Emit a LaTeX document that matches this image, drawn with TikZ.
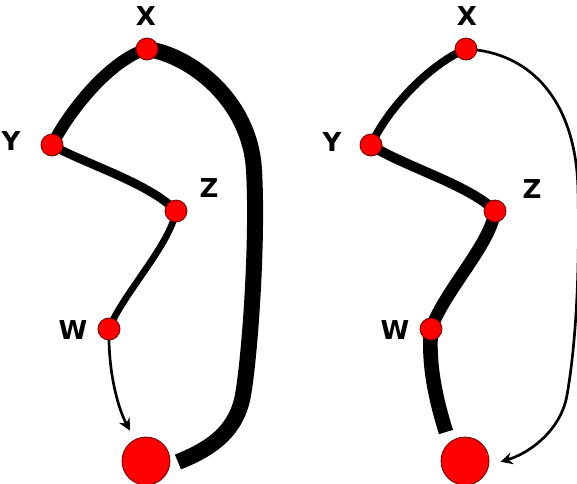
\documentclass[tikz,border=0pt]{standalone}
\usepackage{fontspec}
\setmainfont{DejaVu Sans}
\usetikzlibrary{arrows.meta,backgrounds}
\tikzset{
  pt/.style={circle,fill=red,draw=black!60!red,line width=0.6pt,inner sep=0pt,minimum size=16.5pt},
  goal/.style={pt,minimum size=36pt},
  lab/.style={inner sep=0pt,font=\fontsize{19.5}{19.5}\selectfont\bfseries},
  tip/.style={line width=2pt,-{Stealth[length=9pt,width=9pt,inset=3pt]}},
}
\begin{document}
\begin{tikzpicture}[x=0.75pt,y=-0.75pt]
  \useasboundingbox (0,0) rectangle (577,483);
  % pannello sinistro
  \node[pt]   (X1) at (147,49)  {};
  \node[pt]   (Y1) at (52,145)  {};
  \node[pt]   (Z1) at (176,211) {};
  \node[pt]   (W1) at (109,329) {};
  \node[goal] (B1) at (146,461) {};
  \coordinate (E1) at (178,462);
  \node[lab] (lX1) at (146,16)  {X};
  \node[lab] (lY1) at (11,141)  {Y};
  \node[lab] (lZ1) at (209,188) {Z};
  \node[lab] (lW1) at (73,330)  {W};
  % pannello destro
  \node[pt]   (X2) at (466,49)  {};
  \node[pt]   (Y2) at (371,145) {};
  \node[pt]   (Z2) at (495,211) {};
  \node[pt]   (W2) at (431,329) {};
  \node[goal] (B2) at (465,461) {};
  \coordinate (E2) at (446,432);
  \node[lab] (lX2) at (467,16)  {X};
  \node[lab] (lY2) at (332,142) {Y};
  \node[lab] (lZ2) at (532,189) {Z};
  \node[lab] (lW2) at (395,330) {W};

  \begin{scope}[on background layer]
    % archi a sinistra
    \draw[line width=9pt]   (X1.center) .. controls (110,60) and (70,110) .. (Y1.center);
    \draw[line width=6.5pt] (Y1.center) .. controls (80,162) and (150,183) .. (Z1.center);
    \draw[line width=5pt]   (Z1.center) .. controls (170,245) and (122,295) .. (W1.center);
    \draw[tip,shorten >=7.5pt] (W1.center) .. controls (108,375) and (119,410) .. (B1);
    \draw[line width=12pt]  (X1.center) .. controls (190,55) and (250,100) .. (254,170)
      .. controls (258,240) and (250,355) .. (243,395)
      .. controls (236,435) and (205,451) .. (E1);
    % archi a destra
    \draw[line width=6pt]   (X2.center) .. controls (428,65) and (387,110) .. (Y2.center);
    \draw[line width=7.5pt] (Y2.center) .. controls (400,165) and (470,185) .. (Z2.center);
    \draw[line width=9.5pt] (Z2.center) .. controls (490,245) and (445,290) .. (W2.center);
    \draw[line width=11pt]  (W2.center) .. controls (428,365) and (436,400) .. (E2);
    \draw[tip,shorten >=9pt] (X2.center) .. controls (530,52) and (576,100) .. (578,190)
      .. controls (580,280) and (575,350) .. (567,395)
      .. controls (561,430) and (530,453) .. (B2.-10);
  \end{scope}
\end{tikzpicture}
\end{document}
